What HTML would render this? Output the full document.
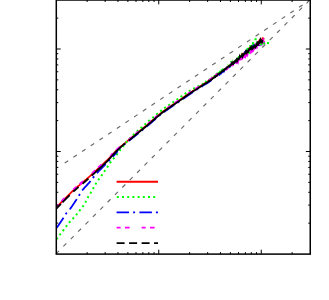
<!DOCTYPE html>
<html><head><meta charset="utf-8"><title>plot</title>
<style>html,body{margin:0;padding:0;background:#fff;}body{width:329px;height:300px;overflow:hidden;font-family:"Liberation Sans",sans-serif;}svg{display:block;}</style>
</head><body>
<svg width="329" height="300" viewBox="0 0 329 300">
<rect width="329" height="300" fill="#fff"/>
<g stroke="#6a6a6a" stroke-width="1.15" fill="none" stroke-dasharray="4.2 6.22">
<path d="M56 253.8 L310 -0.2"/>
<path d="M64.7 163.1 L310 0"/>
</g>
<path d="M56.5 207.3 L57.0 206.8 L57.5 206.3 L58.0 205.8 L58.5 205.3 L59.0 204.7 L59.5 204.2 L60.0 203.7 L60.5 203.2 L61.0 202.7 L61.5 202.2 L62.0 201.7 L62.5 201.2 L63.0 200.7 L63.5 200.2 L64.0 199.7 L64.5 199.1 L65.0 198.6 L65.5 198.1 L66.0 197.6 L66.5 197.1 L67.0 196.6 L67.5 196.1 L68.0 195.6 L68.5 195.1 L69.0 194.6 L69.5 194.1 L70.0 193.7 L70.5 193.2 L71.0 192.7 L71.5 192.2 L72.0 191.7 L72.5 191.2 L73.0 190.8 L73.5 190.3 L74.0 189.8 L74.5 189.4 L75.0 188.9 L75.5 188.5 L76.0 188.1 L76.5 187.6 L77.0 187.2 L77.5 186.7 L78.0 186.3 L78.5 185.9 L79.0 185.5 L79.5 185.1 L80.0 184.6 L80.5 184.2 L81.0 183.8 L81.5 183.4 L82.0 183.0 L82.5 182.5 L83.0 182.1 L83.5 181.7 L84.0 181.3 L84.5 180.9 L85.0 180.4 L85.5 180.0 L86.0 179.6 L86.5 179.2 L87.0 178.7 L87.5 178.3 L88.0 177.8 L88.5 177.4 L89.0 177.0 L89.5 176.5 L90.0 176.1 L90.5 175.6 L91.0 175.2 L91.5 174.7 L92.0 174.2 L92.5 173.8 L93.0 173.3 L93.5 172.9 L94.0 172.4 L94.5 172.0 L95.0 171.5 L95.5 171.0 L96.0 170.6 L96.5 170.1 L97.0 169.6 L97.5 169.2 L98.0 168.7 L98.5 168.2 L99.0 167.8 L99.5 167.3 L100.0 166.8 L100.5 166.4 L101.0 165.9 L101.5 165.5 L102.0 165.0 L102.5 164.5 L103.0 164.1 L103.5 163.6 L104.0 163.1 L104.5 162.7 L105.0 162.2 L105.5 161.7 L106.0 161.3 L106.5 160.8 L107.0 160.3 L107.5 159.8 L108.0 159.4 L108.5 158.8 L109.0 158.3 L109.5 157.8 L110.0 157.3 L110.5 156.7 L111.0 156.2 L111.5 155.6 L112.0 155.1 L112.5 154.6 L113.0 154.0 L113.5 153.5 L114.0 153.0 L114.5 152.4 L115.0 151.9 L115.5 151.4 L116.0 150.9 L116.5 150.4 L117.0 150.0 L117.5 149.5 L118.0 149.0 L118.5 148.6 L119.0 148.2 L119.5 147.7 L120.0 147.3 L120.5 146.8 L121.0 146.4 L121.5 146.0 L122.0 145.6 L122.5 145.2 L123.0 144.8 L123.5 144.3 L124.0 143.9 L124.5 143.5 L125.0 143.1 L125.5 142.7 L126.0 142.3 L126.5 141.9 L127.0 141.5 L127.5 141.0 L128.0 140.6 L128.5 140.2 L129.0 139.8 L129.5 139.4 L130.0 139.0 L130.5 138.5 L131.0 138.1 L131.5 137.7 L132.0 137.3 L132.5 136.9 L133.0 136.4 L133.5 136.0 L134.0 135.6 L134.5 135.2 L135.0 134.8 L135.5 134.4 L136.0 134.0 L136.5 133.6 L137.0 133.2 L137.5 132.8 L138.0 132.3 L138.5 131.9 L139.0 131.5 L139.5 131.1 L140.0 130.7 L140.5 130.3 L141.0 129.9 L141.5 129.5 L142.0 129.1 L142.5 128.7 L143.0 128.3 L143.5 127.9 L144.0 127.5 L144.5 127.1 L145.0 126.7 L145.5 126.3 L146.0 125.9 L146.5 125.4 L147.0 125.0 L147.5 124.6 L148.0 124.2 L148.5 123.8 L149.0 123.4 L149.5 122.9 L150.0 122.5 L150.5 122.1 L151.0 121.6 L151.5 121.2 L152.0 120.8 L152.5 120.3 L153.0 119.9 L153.5 119.4 L154.0 119.0 L154.5 118.6 L155.0 118.1 L155.5 117.7 L156.0 117.2 L156.5 116.8 L157.0 116.4 L157.5 116.0 L158.0 115.5 L158.5 115.1 L159.0 114.7 L159.5 114.3 L160.0 113.9 L160.5 113.5 L161.0 113.1 L161.5 112.7 L162.0 112.3 L162.5 111.9 L163.0 111.6 L163.5 111.2 L164.0 110.8 L164.5 110.5 L165.0 110.1 L165.5 109.7 L166.0 109.4 L166.5 109.0 L167.0 108.7 L167.5 108.3 L168.0 108.0 L168.5 107.6 L169.0 107.3 L169.5 107.0 L170.0 106.6 L170.5 106.3 L171.0 106.0 L171.5 105.6 L172.0 105.3 L172.5 104.9 L173.0 104.6 L173.5 104.3 L174.0 103.9 L174.5 103.6 L175.0 103.3 L175.5 102.9 L176.0 102.6 L176.5 102.2 L177.0 101.9 L177.5 101.5 L178.0 101.2 L178.5 100.9 L179.0 100.5 L179.5 100.2 L180.0 99.8 L180.5 99.5 L181.0 99.1 L181.5 98.8 L182.0 98.4 L182.5 98.1 L183.0 97.7 L183.5 97.4 L184.0 97.0 L184.5 96.7 L185.0 96.3 L185.5 96.0 L186.0 95.6 L186.5 95.3 L187.0 94.9 L187.5 94.6 L188.0 94.2 L188.5 93.9 L189.0 93.5 L189.5 93.2 L190.0 92.8 L190.5 92.5 L191.0 92.2 L191.5 91.8 L192.0 91.5 L192.5 91.2 L193.0 90.8 L193.5 90.5 L194.0 90.2 L194.5 89.9 L195.0 89.5 L195.5 89.2 L196.0 88.9 L196.5 88.6 L197.0 88.3 L197.5 88.0 L198.0 87.6 L198.5 87.4 L199.0 87.0 L199.5 86.7 L200.0 86.5 L200.5 86.0 L201.0 85.9 L201.5 85.5 L202.0 85.1 L202.5 84.7 L203.0 84.5 L203.5 84.1 L204.0 83.7 L204.5 83.6 L205.0 83.3 L205.5 82.9 L206.0 82.7 L206.5 82.2 L207.0 82.0 L207.5 81.6 L208.0 81.2 L208.5 80.7 L209.0 80.7 L209.5 80.0 L210.0 79.6 L210.5 79.2 L211.0 78.8 L211.5 78.8 L212.0 78.4 L212.5 78.2 L213.0 77.6 L213.5 77.4 L214.0 77.0 L214.5 76.6 L215.0 76.0 L215.5 75.9 L216.0 75.1 L216.5 74.8 L217.0 74.2 L217.5 74.1 L218.0 73.6 L218.5 73.3 L219.0 73.6 L219.5 72.4 L220.0 72.9 L220.5 72.1 L221.0 71.5 L221.5 71.7 L222.0 71.1 L222.5 70.2 L223.0 70.5 L223.5 69.8 L224.0 69.4 L224.5 69.1 L225.0 69.4 L225.5 68.6 L226.0 69.0 L226.5 68.0 L227.0 68.1 L227.5 67.6 L228.0 67.7 L228.5 67.5 L229.0 65.7 L229.5 65.9 L230.0 66.1 L230.5 64.7 L231.0 65.2 L231.5 63.7 L232.0 63.8 L232.5 63.6 L233.0 62.3 L233.5 61.8 L234.0 62.3 L234.5 62.7 L235.0 61.1 L235.5 61.9 L236.0 60.3 L236.5 60.6 L237.0 59.7 L237.5 60.8 L238.0 60.2 L238.5 59.6 L239.0 58.1 L239.5 58.8 L240.0 56.9 L240.5 56.7 L241.0 56.0 L241.5 55.2 L242.0 53.6 L242.5 54.8 L243.0 54.6 L243.5 54.3 L244.0 53.9 L244.5 52.5 L245.0 52.2 L245.5 52.9 L246.0 53.6 L246.5 51.2 L247.0 51.2 L247.5 50.7 L248.0 50.3 L248.5 48.8 L249.0 49.0 L249.5 48.0 L250.0 49.2 L250.5 48.7 L251.0 47.0 L251.5 47.4 L252.0 45.6 L252.5 46.3 L253.0 45.8 L253.5 47.2 L254.0 46.4 L254.5 46.1 L255.0 44.4 L255.5 45.2 L256.0 46.6 L256.5 45.8 L257.0 44.8 L257.5 42.3 L258.0 43.4 L258.5 42.4 L259.0 41.2 L259.5 40.1 L260.0 40.9 L260.5 41.6 L261.0 41.1 L261.5 40.0 L262.0 41.2 L262.5 38.2 L263.0 41.9 L263.5 38.4 L264.0 39.3" stroke="#ff0000" stroke-width="1.75" fill="none" stroke-linejoin="round"/>
<path d="M56.46 239.24L57.64 237.62 M59.55 235.08L60.79 233.51 M62.79 231.03L64.00 229.44 M65.88 226.87L67.08 225.27 M69.03 222.76L70.35 221.25 M72.57 218.97L73.91 217.49 M76.01 215.09L77.27 213.54 M79.21 211.02L80.45 209.44 M82.47 206.99L83.63 205.36 M85.28 202.64L86.22 200.87 M87.58 198.00L88.56 196.25 M90.31 193.60L91.36 191.89 M92.89 189.10L93.86 187.35 M95.38 184.56L96.41 182.84 M98.17 180.20L99.33 178.57 M101.25 176.03L102.41 174.40 M104.17 171.75L105.28 170.09 M107.11 167.48L108.24 165.84 M109.99 163.17L111.14 161.54 M113.13 159.06L114.39 157.51 M116.38 155.03L117.62 153.46 M119.56 150.94L120.77 149.35 M122.69 146.81L123.91 145.23 M125.91 142.76L127.22 141.25 M129.37 138.91L130.76 137.47 M133.00 135.21L134.44 133.82 M136.75 131.64L138.23 130.29 M140.64 128.23L142.16 126.93 M144.57 124.85L146.03 123.49 M148.24 121.20L149.75 119.89 M152.32 118.02L153.88 116.76 M156.25 114.65L157.78 113.36 M160.26 111.38L161.83 110.14 M164.18 108.30L165.82 107.15 M168.34 105.56L170.01 104.45 M172.41 102.68L174.05 101.53 M176.56 99.92L178.21 98.80 M180.61 97.02L182.20 95.81 M184.62 94.06L186.29 92.96 M188.83 91.40L190.56 90.39 M193.17 88.95L194.93 88.00 M197.67 86.56L199.39 85.63 M201.97 84.27L203.41 83.53 M205.39 82.32L206.59 81.00 M208.48 80.09L209.99 79.21 M211.32 77.59L212.31 77.49 M213.75 76.26L215.10 75.76 M216.09 74.09L217.03 73.41 M218.36 73.48L218.85 72.06 M219.63 72.32L220.24 70.92 M221.49 70.73L221.83 69.37 M222.58 69.96L223.11 68.58 M224.33 69.05L224.81 69.16 M225.65 68.61L226.53 67.55 M227.61 65.32L228.07 65.20 M228.61 65.68L229.64 65.39 M230.68 62.51L231.55 61.26 M232.46 60.51L232.99 60.71 M233.77 61.06L234.64 61.85 M235.23 61.06L235.94 60.04 M236.66 60.03L237.07 61.08 M237.42 58.00L237.68 58.59 M238.04 57.89L238.84 57.23 M239.13 58.15L239.29 56.16 M239.64 57.29L239.91 55.31 M240.91 56.12L241.23 55.26 M241.68 54.30L241.85 53.46 M242.48 56.39L242.70 54.90 M243.20 55.48L243.46 53.96 M243.74 54.90L244.20 55.12 M244.72 53.84L245.17 53.88 M245.59 53.64L245.72 51.65 M246.32 51.94L246.54 49.96" stroke="#00ff00" stroke-width="2" fill="none"/>
<path d="M247.0 50.0 L247.5 49.8 L248.0 49.6 L248.5 50.1 L249.0 49.1 L249.5 48.7 L250.0 47.5 L250.5 47.4 L251.0 48.6 L251.5 46.7 L252.0 47.9 L252.5 44.5 L253.0 46.2 L253.5 43.6 L254.0 45.7 L254.5 45.2 L255.0 45.7 L255.5 44.8 L256.0 42.1 L256.5 42.6 L257.0 42.9 L257.5 41.5 L258.0 40.1 L258.5 39.7 L259.0 39.3" stroke="#00ff00" stroke-width="2" fill="none" stroke-dasharray="2 3.1"/>
<path d="M56.5 228.0 L57.0 227.3 L57.5 226.6 L58.0 225.9 L58.5 225.2 L59.0 224.5 L59.5 223.8 L60.0 223.0 L60.5 222.3 L61.0 221.5 L61.5 220.8 L62.0 220.0 L62.5 219.3 L63.0 218.5 L63.5 217.7 L64.0 216.9 L64.5 216.0 L65.0 215.2 L65.5 214.4 L66.0 213.7 L66.5 213.0 L67.0 212.4 L67.5 211.9 L68.0 211.3 L68.5 210.8 L69.0 210.2 L69.5 209.6 L70.0 209.0 L70.5 208.3 L71.0 207.7 L71.5 207.0 L72.0 206.3 L72.5 205.6 L73.0 204.8 L73.5 204.1 L74.0 203.3 L74.5 202.6 L75.0 201.8 L75.5 201.0 L76.0 200.3 L76.5 199.5 L77.0 198.7 L77.5 197.9 L78.0 197.1 L78.5 196.3 L79.0 195.5 L79.5 194.7 L80.0 193.9 L80.5 193.1 L81.0 192.3 L81.5 191.5 L82.0 190.8 L82.5 190.1 L83.0 189.5 L83.5 188.9 L84.0 188.3 L84.5 187.7 L85.0 187.2 L85.5 186.7 L86.0 186.1 L86.5 185.6 L87.0 185.0 L87.5 184.5 L88.0 184.0 L88.5 183.4 L89.0 182.9 L89.5 182.3 L90.0 181.7 L90.5 181.1 L91.0 180.4 L91.5 179.8 L92.0 179.1 L92.5 178.5 L93.0 177.8 L93.5 177.2 L94.0 176.6 L94.5 176.0 L95.0 175.4 L95.5 174.8 L96.0 174.2 L96.5 173.6 L97.0 173.1 L97.5 172.5 L98.0 172.0 L98.5 171.4 L99.0 170.9 L99.5 170.4 L100.0 169.8 L100.5 169.3 L101.0 168.8 L101.5 168.3 L102.0 167.8 L102.5 167.3 L103.0 166.8 L103.5 166.3 L104.0 165.8 L104.5 165.3 L105.0 164.8 L105.5 164.3 L106.0 163.8 L106.5 163.3 L107.0 162.8 L107.5 162.3 L108.0 161.7 L108.5 161.2 L109.0 160.7 L109.5 160.2 L110.0 159.6 L110.5 159.1 L111.0 158.6 L111.5 158.0 L112.0 157.5 L112.5 157.0 L113.0 156.4 L113.5 155.9 L114.0 155.3 L114.5 154.8 L115.0 154.2 L115.5 153.7 L116.0 153.1 L116.5 152.6 L117.0 152.0 L117.5 150.1 L118.0 149.7 L118.5 149.2 L119.0 148.8 L119.5 148.4 L120.0 147.9 L120.5 147.5 L121.0 147.1 L121.5 146.7 L122.0 146.3 L122.5 145.8 L123.0 145.4 L123.5 145.0 L124.0 144.6 L124.5 144.2 L125.0 143.8 L125.5 143.4 L126.0 143.0 L126.5 142.7 L127.0 142.3 L127.5 141.9 L128.0 141.5 L128.5 141.1 L129.0 140.7 L129.5 140.3 L130.0 139.9 L130.5 139.5 L131.0 139.1 L131.5 138.7 L132.0 138.3 L132.5 137.9 L133.0 137.5 L133.5 137.2 L134.0 136.8 L134.5 136.4 L135.0 136.0 L135.5 135.6 L136.0 135.2 L136.5 134.8 L137.0 134.4 L137.5 134.0 L138.0 133.5 L138.5 133.1 L139.0 132.7 L139.5 132.3 L140.0 131.9 L140.5 131.5 L141.0 131.1 L141.5 130.7 L142.0 130.3 L142.5 129.9 L143.0 129.5 L143.5 129.1 L144.0 128.7 L144.5 128.3 L145.0 127.9 L145.5 127.5 L146.0 127.1 L146.5 126.6 L147.0 126.2 L147.5 125.8 L148.0 125.4 L148.5 125.0 L149.0 124.6 L149.5 124.1 L150.0 123.7 L150.5 123.3 L151.0 122.8 L151.5 122.4 L152.0 122.0 L152.5 121.5 L153.0 121.1 L153.5 120.6 L154.0 120.2 L154.5 119.8 L155.0 119.3 L155.5 118.9 L156.0 118.4 L156.5 118.0 L157.0 117.6 L157.5 117.2 L158.0 116.7 L158.5 116.3 L159.0 115.9 L159.5 115.5 L160.0 115.1 L160.5 114.7 L161.0 114.3 L161.5 113.9 L162.0 113.5 L162.5 113.1 L163.0 112.8 L163.5 112.4 L164.0 112.0 L164.5 111.7 L165.0 111.3 L165.5 110.9 L166.0 110.6 L166.5 110.2 L167.0 109.9 L167.5 109.5 L168.0 109.2 L168.5 108.8 L169.0 108.5 L169.5 108.2 L170.0 107.8 L170.5 107.5 L171.0 107.2 L171.5 106.8 L172.0 106.5 L172.5 106.1 L173.0 105.8 L173.5 105.5 L174.0 105.1 L174.5 104.8 L175.0 104.5 L175.5 104.1 L176.0 103.8 L176.5 103.4 L177.0 103.1 L177.5 102.7 L178.0 102.4 L178.5 102.1 L179.0 101.7 L179.5 101.4 L180.0 101.0 L180.5 100.7 L181.0 100.3 L181.5 100.0 L182.0 99.6 L182.5 99.3 L183.0 98.9 L183.5 98.6 L184.0 98.2 L184.5 97.9 L185.0 97.5 L185.5 97.2 L186.0 96.8 L186.5 96.5 L187.0 96.1 L187.5 95.8 L188.0 95.4 L188.5 95.1 L189.0 94.7 L189.5 94.4 L190.0 94.0 L190.5 93.7 L191.0 93.4 L191.5 93.0 L192.0 92.7 L192.5 92.4 L193.0 92.0 L193.5 91.7 L194.0 91.4 L194.5 91.1 L195.0 90.7 L195.5 90.4 L196.0 90.1 L196.5 89.8 L197.0 89.5 L197.5 89.2 L198.0 88.9 L198.5 88.6 L199.0 88.2 L199.5 87.9 L200.0 87.6 L200.5 87.2 L201.0 87.0 L201.5 86.6 L202.0 86.4 L202.5 86.0 L203.0 85.6 L203.5 85.3 L204.0 85.0 L204.5 84.8 L205.0 84.4 L205.5 84.1 L206.0 83.6 L206.5 83.6 L207.0 83.2 L207.5 83.0 L208.0 82.3 L208.5 82.3 L209.0 82.0 L209.5 81.6 L210.0 80.9 L210.5 81.0 L211.0 80.3 L211.5 79.7 L212.0 79.5 L212.5 79.2 L213.0 78.2 L213.5 78.1 L214.0 77.8 L214.5 77.8 L215.0 76.7 L215.5 76.9 L216.0 76.8 L216.5 76.5 L217.0 76.4 L217.5 76.0 L218.0 75.5 L218.5 75.2 L219.0 74.4 L219.5 74.7 L220.0 73.8 L220.5 73.0 L221.0 73.4 L221.5 72.8 L222.0 72.5 L222.5 71.2 L223.0 71.7 L223.5 70.7 L224.0 71.2 L224.5 69.9 L225.0 69.8 L225.5 69.2 L226.0 68.8 L226.5 68.6 L227.0 69.0 L227.5 68.1 L228.0 67.7 L228.5 68.5 L229.0 67.6 L229.5 67.3 L230.0 65.6 L230.5 64.9 L231.0 66.3 L231.5 64.2 L232.0 65.2 L232.5 64.9 L233.0 63.6 L233.5 63.1 L234.0 62.8 L234.5 62.6 L235.0 61.9 L235.5 61.9 L236.0 62.0 L236.5 61.0 L237.0 62.3 L237.5 62.1 L238.0 60.0 L238.5 60.0 L239.0 60.0 L239.5 58.5 L240.0 57.8 L240.5 58.2 L241.0 57.1 L241.5 56.9 L242.0 57.1 L242.5 55.4 L243.0 56.0 L243.5 54.7 L244.0 55.6 L244.5 53.7 L245.0 55.3 L245.5 53.2 L246.0 54.7 L246.5 51.7 L247.0 52.9 L247.5 53.5 L248.0 52.9 L248.5 51.6 L249.0 51.5 L249.5 50.3 L250.0 52.3 L250.5 51.2 L251.0 49.8 L251.5 49.4 L252.0 50.0 L252.5 48.3 L253.0 46.1 L253.5 45.5 L254.0 47.1 L254.5 45.7 L255.0 45.6 L255.5 45.3 L256.0 43.7 L256.5 46.2 L257.0 44.3 L257.5 44.6 L258.0 44.2 L258.5 42.9 L259.0 46.3 L259.5 46.2 L260.0 41.9 L260.5 41.3 L261.0 42.6 L261.5 45.0 L262.0 42.3 L262.5 43.9" stroke="#0000ff" stroke-width="1.8" fill="none" stroke-dasharray="12.5 4 2 4.3"/>
<path d="M56.5 206.8 L57.0 206.3 L57.5 205.8 L58.0 205.2 L58.5 204.7 L59.0 204.2 L59.5 203.7 L60.0 203.2 L60.5 202.7 L61.0 202.1 L61.5 201.6 L62.0 201.1 L62.5 200.6 L63.0 200.1 L63.5 199.6 L64.0 199.1 L64.5 198.6 L65.0 198.1 L65.5 197.6 L66.0 197.1 L66.5 196.6 L67.0 196.1 L67.5 195.6 L68.0 195.1 L68.5 194.6 L69.0 194.1 L69.5 193.6 L70.0 193.1 L70.5 192.6 L71.0 192.1 L71.5 191.7 L72.0 191.2 L72.5 190.7 L73.0 190.2 L73.5 189.8 L74.0 189.3 L74.5 188.8 L75.0 188.4 L75.5 187.9 L76.0 187.5 L76.5 187.1 L77.0 186.6 L77.5 186.2 L78.0 185.8 L78.5 185.3 L79.0 184.9 L79.5 184.5 L80.0 184.1 L80.5 183.7 L81.0 183.2 L81.5 182.8 L82.0 182.4 L82.5 182.0 L83.0 181.6 L83.5 181.2 L84.0 180.7 L84.5 180.3 L85.0 179.9 L85.5 179.5 L86.0 179.0 L86.5 178.6 L87.0 178.2 L87.5 177.7 L88.0 177.3 L88.5 176.9 L89.0 176.4 L89.5 176.0 L90.0 175.5 L90.5 175.1 L91.0 174.6 L91.5 174.2 L92.0 173.7 L92.5 173.2 L93.0 172.8 L93.5 172.3 L94.0 171.9 L94.5 171.4 L95.0 170.9 L95.5 170.5 L96.0 170.0 L96.5 169.6 L97.0 169.1 L97.5 168.6 L98.0 168.2 L98.5 167.7 L99.0 167.2 L99.5 166.8 L100.0 166.3 L100.5 165.8 L101.0 165.4 L101.5 164.9 L102.0 164.5 L102.5 164.0 L103.0 163.5 L103.5 163.1 L104.0 162.6 L104.5 162.1 L105.0 161.7 L105.5 161.2 L106.0 160.8 L106.5 160.3 L107.0 159.8 L107.5 159.4 L108.0 158.9 L108.5 158.4 L109.0 157.9 L109.5 157.3 L110.0 156.8 L110.5 156.3 L111.0 155.8 L111.5 155.2 L112.0 154.7 L112.5 154.2 L113.0 153.7 L113.5 153.1 L114.0 152.6 L114.5 152.1 L115.0 151.6 L115.5 151.1 L116.0 150.6 L116.5 150.1 L117.0 149.7 L117.5 149.2 L118.0 148.8 L118.5 148.3 L119.0 147.9 L119.5 147.5 L120.0 147.1 L120.5 146.6 L121.0 146.2 L121.5 145.8 L122.0 145.4 L122.5 145.0 L123.0 144.6 L123.5 144.2 L124.0 143.8 L124.5 143.4 L125.0 143.0 L125.5 142.6 L126.0 142.2 L126.5 141.8 L127.0 141.4 L127.5 140.9 L128.0 140.5 L128.5 140.1 L129.0 139.7 L129.5 139.3 L130.0 138.9 L130.5 138.4 L131.0 138.0 L131.5 137.6 L132.0 137.2 L132.5 136.8 L133.0 136.3 L133.5 135.9 L134.0 135.5 L134.5 135.1 L135.0 134.7 L135.5 134.3 L136.0 133.9 L136.5 133.5 L137.0 133.1 L137.5 132.7 L138.0 132.2 L138.5 131.8 L139.0 131.4 L139.5 131.0 L140.0 130.6 L140.5 130.2 L141.0 129.8 L141.5 129.4 L142.0 129.0 L142.5 128.6 L143.0 128.2 L143.5 127.8 L144.0 127.4 L144.5 127.0 L145.0 126.6 L145.5 126.2 L146.0 125.8 L146.5 125.3 L147.0 124.9 L147.5 124.5 L148.0 124.1 L148.5 123.7 L149.0 123.3 L149.5 122.8 L150.0 122.4 L150.5 122.0 L151.0 121.5 L151.5 121.1 L152.0 120.7 L152.5 120.2 L153.0 119.8 L153.5 119.3 L154.0 118.9 L154.5 118.5 L155.0 118.0 L155.5 117.6 L156.0 117.1 L156.5 116.7 L157.0 116.3 L157.5 115.9 L158.0 115.4 L158.5 115.0 L159.0 114.6 L159.5 114.2 L160.0 113.8 L160.5 113.4 L161.0 113.0 L161.5 112.6 L162.0 112.2 L162.5 111.8 L163.0 111.5 L163.5 111.1 L164.0 110.7 L164.5 110.4 L165.0 110.0 L165.5 109.6 L166.0 109.3 L166.5 108.9 L167.0 108.6 L167.5 108.2 L168.0 107.9 L168.5 107.5 L169.0 107.2 L169.5 106.9 L170.0 106.5 L170.5 106.2 L171.0 105.9 L171.5 105.5 L172.0 105.2 L172.5 104.8 L173.0 104.5 L173.5 104.2 L174.0 103.8 L174.5 103.5 L175.0 103.2 L175.5 102.8 L176.0 102.5 L176.5 102.1 L177.0 101.8 L177.5 101.4 L178.0 101.1 L178.5 100.8 L179.0 100.4 L179.5 100.1 L180.0 99.7 L180.5 99.4 L181.0 99.0 L181.5 98.7 L182.0 98.3 L182.5 98.0 L183.0 97.6 L183.5 97.3 L184.0 96.9 L184.5 96.6 L185.0 96.2 L185.5 95.9 L186.0 95.5 L186.5 95.2 L187.0 94.8 L187.5 94.5 L188.0 94.1 L188.5 93.8 L189.0 93.4 L189.5 93.1 L190.0 92.7 L190.5 92.4 L191.0 92.1 L191.5 91.7 L192.0 91.4 L192.5 91.1 L193.0 90.7 L193.5 90.4 L194.0 90.1 L194.5 89.8 L195.0 89.4 L195.5 89.1 L196.0 88.8 L196.5 88.5 L197.0 88.2 L197.5 87.8 L198.0 87.5 L198.5 87.2 L199.0 87.0 L199.5 86.7 L200.0 86.3 L200.5 85.9 L201.0 85.7 L201.5 85.5 L202.0 85.1 L202.5 84.7 L203.0 84.4 L203.5 84.0 L204.0 83.5 L204.5 83.4 L205.0 83.1 L205.5 82.6 L206.0 82.5 L206.5 82.1 L207.0 81.7 L207.5 81.6 L208.0 81.4 L208.5 81.0 L209.0 80.6 L209.5 80.1 L210.0 79.8 L210.5 79.7 L211.0 79.3 L211.5 78.7 L212.0 78.3 L212.5 78.4 L213.0 77.5 L213.5 77.4 L214.0 77.2 L214.5 76.8 L215.0 76.0 L215.5 75.7 L216.0 75.6 L216.5 75.5 L217.0 74.6 L217.5 75.0 L218.0 74.1 L218.5 74.1 L219.0 74.4 L219.5 74.4 L220.0 73.4 L220.5 72.9 L221.0 72.3 L221.5 73.0 L222.0 71.8 L222.5 72.4 L223.0 71.2 L223.5 71.7 L224.0 70.9 L224.5 69.9 L225.0 69.2 L225.5 69.4 L226.0 69.4 L226.5 68.3 L227.0 68.6 L227.5 67.8 L228.0 66.8 L228.5 66.3 L229.0 65.9 L229.5 65.7 L230.0 65.9 L230.5 66.3 L231.0 65.8 L231.5 64.5 L232.0 65.0 L232.5 65.0 L233.0 63.3 L233.5 63.9 L234.0 64.2 L234.5 63.2 L235.0 63.3 L235.5 61.9 L236.0 62.2 L236.5 61.7 L237.0 62.2 L237.5 60.8 L238.0 61.8 L238.5 61.1 L239.0 61.0 L239.5 61.0 L240.0 60.4 L240.5 59.5 L241.0 58.5 L241.5 58.2 L242.0 57.4 L242.5 57.3 L243.0 57.9 L243.5 56.6 L244.0 58.2 L244.5 55.7 L245.0 56.4 L245.5 54.7 L246.0 56.1 L246.5 54.2 L247.0 54.5 L247.5 53.9 L248.0 54.1 L248.5 52.7 L249.0 51.7 L249.5 51.1 L250.0 52.1 L250.5 50.7 L251.0 52.2 L251.5 51.9 L252.0 51.3 L252.5 49.9 L253.0 50.0 L253.5 49.3 L254.0 50.9 L254.5 49.9 L255.0 49.0 L255.5 46.9 L256.0 48.4 L256.5 44.8 L257.0 44.3 L257.5 43.9 L258.0 41.4 L258.5 44.0 L259.0 42.4 L259.5 42.4 L260.0 43.9 L260.5 44.2 L261.0 40.3 L261.5 42.2 L262.0 41.6 L262.5 43.9 L263.0 40.9 L263.5 39.1 L264.0 42.4 L264.5 40.5 L265.0 40.0" stroke="#ff00ff" stroke-width="2.4" fill="none" stroke-dasharray="4 4.4 4.6 12" stroke-dashoffset="1"/>
<path d="M236.0 64.1 L236.5 62.5 L237.0 62.4 L237.5 61.2 L238.0 62.5 L238.5 60.7 L239.0 60.1 L239.5 59.3 L240.0 59.5 L240.5 58.2 L241.0 59.4 L241.5 59.0 L242.0 59.2 L242.5 57.1 L243.0 57.4 L243.5 57.6 L244.0 57.3 L244.5 55.6 L245.0 55.7 L245.5 56.5 L246.0 56.0 L246.5 53.3 L247.0 53.5 L247.5 54.9 L248.0 52.7 L248.5 51.3 L249.0 51.9 L249.5 51.5 L250.0 52.3 L250.5 49.5 L251.0 51.7 L251.5 49.8 L252.0 49.5 L252.5 48.7 L253.0 48.8 L253.5 50.0 L254.0 48.3 L254.5 46.9 L255.0 48.0 L255.5 47.3 L256.0 47.3 L256.5 46.0 L257.0 46.8 L257.5 43.8 L258.0 45.0 L258.5 44.7 L259.0 43.4 L259.5 44.1 L260.0 41.9 L260.5 43.1 L261.0 42.7 L261.5 43.3 L262.0 41.0 L262.5 40.3 L263.0 39.5 L263.5 42.9 L264.0 41.0 L264.5 43.3 L265.0 42.9" stroke="#ff00ff" stroke-width="1.6" fill="none"/>
<g fill="#00ff00"><rect x="254.5" y="38.2" width="2.1" height="2"/><rect x="252.0" y="42.2" width="2.1" height="2"/><rect x="249.3" y="45.1" width="2.1" height="2"/><rect x="246.5" y="47.8" width="2.1" height="2"/><rect x="263.0" y="42.4" width="2.1" height="2"/><rect x="267.0" y="42.1" width="2.1" height="2"/><rect x="260.0" y="43.3" width="2.1" height="2"/><rect x="248.0" y="51.6" width="2.1" height="2"/></g>
<path d="M56.5 208.5 L56.9 208.1 L57.3 207.7 L57.7 207.2 L58.1 206.8 L58.5 206.4 L58.9 206.0 L59.3 205.6 L59.7 205.2 L60.1 204.8 L60.5 204.4 L60.9 203.9 M62.5 202.3 L62.9 201.9 L63.3 201.5 L63.7 201.1 L64.1 200.7 L64.5 200.3 L64.9 199.9 L65.3 199.5 L65.7 199.1 L66.1 198.7 L66.5 198.3 L66.9 197.9 L67.3 197.5 L67.7 197.1 L68.1 196.7 L68.5 196.3 L68.9 195.9 L69.3 195.5 L69.7 195.1 M73.3 191.6 L73.7 191.3 L74.1 190.9 L74.5 190.5 L74.9 190.2 L75.3 189.8 L75.7 189.5 L76.1 189.1 L76.5 188.8 L76.9 188.4 L77.3 188.1 L77.7 187.7 L78.1 187.4 L78.5 187.0 M82.5 183.7 L82.9 183.4 L83.3 183.0 L83.7 182.7 L84.1 182.4 L84.5 182.0 L84.9 181.7 L85.3 181.3 L85.7 181.0 L86.1 180.7 L86.5 180.3 L86.9 180.0 L87.3 179.6 L87.7 179.3 L88.1 178.9 L88.5 178.6 M91.7 175.7 L92.1 175.3 L92.5 174.9 L92.9 174.6 L93.3 174.2 L93.7 173.8 L94.1 173.5 L94.5 173.1 L94.9 172.7 L95.3 172.4 L95.7 172.0 L96.1 171.6 L96.5 171.3 L96.9 170.9 L97.3 170.5 L97.7 170.1 L98.1 169.8 L98.5 169.4 L98.9 169.0 L99.3 168.7 L99.7 168.3 L100.1 167.9 L100.5 167.5 L100.9 167.2 L101.3 166.8 L101.7 166.4 L102.1 166.1 L102.5 165.7 L102.9 165.3 L103.3 164.9 L103.7 164.6 L104.1 164.2 L104.5 163.8 L104.9 163.4 L105.3 163.1 L105.7 162.7 L106.1 162.3 L106.5 161.9 L106.9 161.5 L107.3 161.1 L107.7 160.7 L108.1 160.3 L108.5 159.8 L108.9 159.4 L109.3 159.0 L109.7 158.5 L110.1 158.1 L110.5 157.6 L110.9 157.2 L111.3 156.7 L111.7 156.3 L112.1 155.8 L112.5 155.4 L112.9 154.9 L113.3 154.5 L113.7 154.1 L114.1 153.6 L114.5 153.2 L114.9 152.8 L115.3 152.3 L115.7 151.9 L116.1 151.5 L116.5 151.1 L116.9 150.7 L117.3 150.3 L117.7 149.9 L118.1 149.5 L118.5 149.2 L118.9 148.8 L119.3 148.4 L119.7 148.1 L120.1 147.7 L120.5 147.3 L120.9 147.0 L121.3 146.6 L121.7 146.3 L122.1 145.9 L122.5 145.6 L122.9 145.2 L123.3 144.9 L123.7 144.5 L124.1 144.2 L124.5 143.9 L124.9 143.5 M128.9 140.5 L129.3 140.1 L129.7 139.8 L130.1 139.5 L130.5 139.1 L130.9 138.8 L131.3 138.5 L131.7 138.1 L132.1 137.8 L132.5 137.5 L132.9 137.1 L133.3 136.8 L133.7 136.5 L134.1 136.1 L134.5 135.8 L134.9 135.5 L135.3 135.1 L135.7 134.8 L136.1 134.5 L136.5 134.2 L136.9 133.8 L137.3 133.5 L137.7 133.2 L138.1 132.9 L138.5 132.5 L138.9 132.2 L139.3 131.9 L139.7 131.6 L140.1 131.3 L140.5 130.9 L140.9 130.6 L141.3 130.3 L141.7 130.0 L142.1 129.6 L142.5 129.3 L142.9 129.0 L143.3 128.7 L143.7 128.3 L144.1 128.0 L144.5 127.7 L144.9 127.4 L145.3 127.0 L145.7 126.7 L146.1 126.4 L146.5 126.0 L146.9 125.7 L147.3 125.4 L147.7 125.1 L148.1 124.7 L148.5 124.4 L148.9 124.0 L149.3 123.7 L149.7 123.4 L150.1 123.0 L150.5 122.7 L150.9 122.3 L151.3 122.0 L151.7 121.6 L152.1 121.3 L152.5 120.9 L152.9 120.6 L153.3 120.2 L153.7 119.9 L154.1 119.5 L154.5 119.2 L154.9 118.8 L155.3 118.5 L155.7 118.1 L156.1 117.8 L156.5 117.4 L156.9 117.1 L157.3 116.7 L157.7 116.4 L158.1 116.0 L158.5 115.7 L158.9 115.4 L159.3 115.1 L159.7 114.7 L160.1 114.4 L160.5 114.1 L160.9 113.8 L161.3 113.5 L161.7 113.1 L162.1 112.8 L162.5 112.5 L162.9 112.2 L163.3 111.9 L163.7 111.6 L164.1 111.4 L164.5 111.1 L164.9 110.8 L165.3 110.5 L165.7 110.2 L166.1 109.9 L166.5 109.6 L166.9 109.4 L167.3 109.1 L167.7 108.8 L168.1 108.5 L168.5 108.2 L168.9 108.0 L169.3 107.7 L169.7 107.4 L170.1 107.2 L170.5 106.9 L170.9 106.6 L171.3 106.3 L171.7 106.1 L172.1 105.8 L172.5 105.5 L172.9 105.3 L173.3 105.0 L173.7 104.7 L174.1 104.5 L174.5 104.2 L174.9 103.9 L175.3 103.7 L175.7 103.4 L176.1 103.1 L176.5 102.8 L176.9 102.6 L177.3 102.3 L177.7 102.0 L178.1 101.7 L178.5 101.5 L178.9 101.2 L179.3 100.9 L179.7 100.6 L180.1 100.3 L180.5 100.1 L180.9 99.8 L181.3 99.5 L181.7 99.2 L182.1 98.9 L182.5 98.7 L182.9 98.4 L183.3 98.1 L183.7 97.8 L184.1 97.5 L184.5 97.3 L184.9 97.0 L185.3 96.7 L185.7 96.4 L186.1 96.1 L186.5 95.9 L186.9 95.6 L187.3 95.3 L187.7 95.0 L188.1 94.8 L188.5 94.5 L188.9 94.2 L189.3 93.9 L189.7 93.7 L190.1 93.4 L190.5 93.1 L190.9 92.8 L191.3 92.6 L191.7 92.3 L192.1 92.0 L192.5 91.8 L192.9 91.5 L193.3 91.2 L193.7 91.0 L194.1 90.7 L194.5 90.5 L194.9 90.2 L195.3 89.9 L195.7 89.7 L196.1 89.4 L196.5 89.2 L196.9 88.9 L197.3 88.7 L197.7 88.4 L198.1 88.2 L198.5 88.0 L198.9 87.7 L199.3 87.4 L199.7 87.1 L200.1 87.0 L200.5 86.6 L200.9 86.4 L201.3 86.2 L201.7 86.0 L202.1 85.6 L202.5 85.3 L202.9 85.0 L203.3 84.7 L203.7 84.6 L204.1 84.2 L204.5 84.1 L204.9 83.8 L205.3 83.5 L205.7 83.5 L206.1 83.2 L206.5 83.0 L206.9 82.6 L207.3 82.4 L207.7 82.2 L208.1 81.9 L208.5 81.6 L208.9 81.2 L209.3 80.9 L209.7 80.8 L210.1 80.5 L210.5 80.1 L210.9 79.8 L211.3 79.8 L211.7 79.2 L212.1 79.1 L212.5 78.7 L212.9 78.3 L213.3 78.2 L213.7 77.6 L214.1 77.6 L214.5 77.6 L214.9 76.8 L215.3 76.9 L215.7 76.2 L216.1 76.0 L216.5 76.0 L216.9 75.6 L217.3 74.9 L217.7 74.7 L218.1 74.1 L218.5 74.2 L218.9 73.9 L219.3 73.8 L219.7 73.2 L220.1 73.1 L220.5 72.8 L220.9 72.3 L221.3 72.1 L221.7 71.6 L222.1 71.3 L222.5 71.2 L222.9 70.8 L223.3 70.4 L223.7 70.8 L224.1 70.0 L224.5 69.4 L224.9 69.1 L225.3 68.7 L225.7 68.6 L226.1 68.7 L226.5 68.3 L226.9 67.6 L227.3 67.0 L227.7 67.2 L228.1 66.9 L228.5 66.6 L228.9 66.1 L229.3 66.3 L229.7 66.1 L230.1 65.7 L230.5 64.8 L230.9 64.9 L231.3 64.7 L231.7 64.1 L232.1 63.0 L232.5 63.7 L232.9 63.9 L233.3 62.8 L233.7 63.4 L234.1 62.8 L234.5 62.3 L234.9 61.3 L235.3 60.8 L235.7 61.3 L236.1 61.2 L236.5 60.1 L236.9 61.0 L237.3 59.3 L237.7 60.0 L238.1 59.1 L238.5 58.7 L238.9 59.0 L239.3 58.8 L239.7 56.6 L240.1 57.5 L240.5 57.3 L240.9 56.8 L241.3 56.1 L241.7 56.2 L242.1 55.2 L242.5 56.3 L242.9 54.7 L243.3 54.3 L243.7 54.8 L244.1 53.8 L244.5 53.6 L244.9 53.4 L245.3 53.2 L245.7 51.9 L246.1 52.8 L246.5 51.7 L246.9 52.4 L247.3 51.4 L247.7 52.0 L248.1 52.0 L248.5 50.7 L248.9 49.4 L249.3 49.5 L249.7 49.0 L250.1 48.3 L250.5 47.7 L250.9 48.8 L251.3 48.4 L251.7 47.4 L252.1 49.1 L252.5 48.8 L252.9 48.4 L253.3 47.0 L253.7 47.2 L254.1 46.8 L254.5 45.5 L254.9 45.6 L255.3 47.3 L255.7 46.7 L256.1 46.5 L256.5 44.9 L256.9 45.0 L257.3 43.1 L257.7 43.8 L258.1 44.4 L258.5 42.9 L258.9 43.5 L259.3 43.2 L259.7 41.5 L260.1 40.3 L260.5 42.2 L260.9 40.7 L261.3 42.0 L261.7 41.4 L262.1 41.8 L262.5 39.8" stroke="#000" stroke-width="1.8" fill="none"/>
<g stroke-width="1.85" fill="none">
<path d="M116.6 181.7 H158" stroke="#ff0000"/>
<path d="M116.6 197 H158" stroke="#00ff00" stroke-dasharray="2 3.2" stroke-dashoffset="-0.2"/>
<path d="M116.6 212.4 H158" stroke="#0000ff" stroke-dasharray="12.5 4 2 4.3"/>
<path d="M116.6 227.6 H158" stroke="#ff00ff" stroke-dasharray="4 4.4 4.6 12"/>
<path d="M116.6 243.1 H158" stroke="#000" stroke-dasharray="8 4.5"/>
</g>
<g stroke="#000" fill="none">
<rect x="56.3" y="0" width="253.95" height="254.1" stroke-width="1.5"/>
<path d="M87.11 254.1 v-2.0 M87.11 0 v2.0 M56.3 223.14 h2.0 M310.25 223.14 h-2.0 M105.15 254.1 v-2.0 M105.15 0 v2.0 M56.3 205.10 h2.0 M310.25 205.10 h-2.0 M117.96 254.1 v-2.0 M117.96 0 v2.0 M56.3 192.29 h2.0 M310.25 192.29 h-2.0 M127.89 254.1 v-2.0 M127.89 0 v2.0 M56.3 182.36 h2.0 M310.25 182.36 h-2.0 M136.01 254.1 v-2.0 M136.01 0 v2.0 M56.3 174.24 h2.0 M310.25 174.24 h-2.0 M142.87 254.1 v-2.0 M142.87 0 v2.0 M56.3 167.38 h2.0 M310.25 167.38 h-2.0 M148.82 254.1 v-2.0 M148.82 0 v2.0 M56.3 161.43 h2.0 M310.25 161.43 h-2.0 M154.06 254.1 v-2.0 M154.06 0 v2.0 M56.3 156.19 h2.0 M310.25 156.19 h-2.0 M158.75 254.1 v-4.4 M158.75 0 v4.4 M56.3 151.50 h4.4 M310.25 151.50 h-4.4 M189.61 254.1 v-2.0 M189.61 0 v2.0 M56.3 120.64 h2.0 M310.25 120.64 h-2.0 M207.65 254.1 v-2.0 M207.65 0 v2.0 M56.3 102.60 h2.0 M310.25 102.60 h-2.0 M220.46 254.1 v-2.0 M220.46 0 v2.0 M56.3 89.79 h2.0 M310.25 89.79 h-2.0 M230.39 254.1 v-2.0 M230.39 0 v2.0 M56.3 79.86 h2.0 M310.25 79.86 h-2.0 M238.51 254.1 v-2.0 M238.51 0 v2.0 M56.3 71.74 h2.0 M310.25 71.74 h-2.0 M245.37 254.1 v-2.0 M245.37 0 v2.0 M56.3 64.88 h2.0 M310.25 64.88 h-2.0 M251.32 254.1 v-2.0 M251.32 0 v2.0 M56.3 58.93 h2.0 M310.25 58.93 h-2.0 M256.56 254.1 v-2.0 M256.56 0 v2.0 M56.3 53.69 h2.0 M310.25 53.69 h-2.0 M261.25 254.1 v-4.4 M261.25 0 v4.4 M56.3 49.00 h4.4 M310.25 49.00 h-4.4 M292.11 254.1 v-2.0 M292.11 0 v2.0 M56.3 18.14 h2.0 M310.25 18.14 h-2.0" stroke-width="1"/>
</g>
</svg>
</body></html>
